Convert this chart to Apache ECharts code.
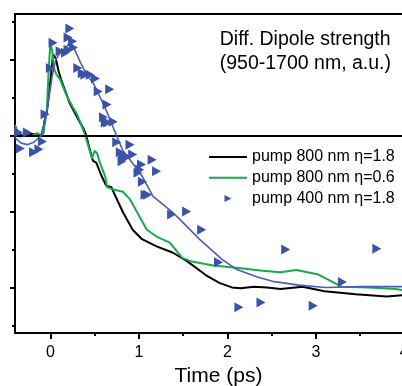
<!DOCTYPE html>
<html><head><meta charset="utf-8">
<script src="https://cdn.jsdelivr.net/npm/echarts@6/dist/echarts.min.js"></script>
<style>html,body{margin:0;padding:0;background:#fff}#c{width:402px;height:386px}</style>
</head><body><div id="c"></div>
<script>
var blackT = [-0.40,-0.30,-0.20,-0.12,-0.08,-0.07,-0.04,0.00,0.03,0.06,0.09,0.12,0.17,0.22,0.28,0.33,0.37,0.40,0.44,0.48,0.52,0.57,0.63,0.66,0.69,0.72,0.82,0.93,1.03,1.20,1.38,1.54,1.76,1.91,2.05,2.15,2.30,2.45,2.60,2.85,3.10,3.45,3.80,4.00,4.20];
var blackV = [0.00,0.01,0.02,0.00,0.03,0.18,0.30,0.72,1.07,1.02,0.86,0.74,0.58,0.42,0.29,0.18,0.10,0.02,-0.16,-0.33,-0.36,-0.51,-0.66,-0.67,-0.68,-0.76,-1.01,-1.24,-1.36,-1.46,-1.54,-1.65,-1.84,-1.94,-2.00,-2.01,-1.99,-2.00,-2.02,-1.99,-2.05,-2.09,-2.12,-2.10,-2.08];
var greenT = [-0.40,-0.38,-0.35,-0.30,-0.22,-0.15,-0.10,-0.08,-0.06,-0.04,-0.02,0.00,0.02,0.04,0.07,0.11,0.15,0.19,0.25,0.30,0.34,0.39,0.43,0.47,0.50,0.53,0.56,0.62,0.64,0.71,0.82,0.90,0.98,1.09,1.20,1.35,1.49,1.60,1.84,2.10,2.40,2.60,2.78,3.03,3.29,3.60,3.90,4.20];
var greenV = [0.14,0.08,-0.02,0.02,-0.01,0.03,0.00,0.05,0.17,0.34,0.85,1.22,1.12,0.88,0.80,0.74,0.62,0.51,0.38,0.28,0.17,0.01,-0.14,-0.30,-0.20,-0.24,-0.36,-0.54,-0.68,-0.71,-0.74,-0.84,-1.01,-1.24,-1.33,-1.41,-1.61,-1.66,-1.71,-1.74,-1.78,-1.80,-1.77,-1.83,-1.99,-2.00,-2.02,-2.08];
var blueLineT = [-0.40,-0.33,-0.26,-0.19,-0.11,-0.06,-0.02,0.02,0.06,0.11,0.16,0.22,0.26,0.34,0.42,0.48,0.56,0.65,0.75,0.82,0.90,1.04,1.16,1.38,1.46,1.69,1.94,2.10,2.33,2.51,2.81,3.11,3.50,4.20];
var blueLineV = [-0.03,-0.10,-0.12,-0.09,-0.01,0.21,0.47,0.78,1.00,1.09,1.14,1.22,1.17,0.96,0.78,0.70,0.51,0.28,-0.01,-0.20,-0.32,-0.54,-0.80,-1.01,-1.10,-1.37,-1.63,-1.76,-1.86,-1.92,-1.97,-2.00,-1.99,-1.99];
var scatterT = [-0.36,-0.26,-0.34,-0.19,-0.13,-0.09,-0.06,0.00,0.03,0.11,0.17,0.20,0.26,0.20,0.22,0.25,0.31,0.36,0.39,0.45,0.51,0.54,0.67,0.64,0.60,0.62,0.65,0.71,0.75,0.90,0.79,0.82,0.84,0.81,0.87,0.93,1.15,1.03,1.01,0.99,1.20,1.04,1.07,1.10,1.37,1.54,1.71,1.90,2.13,2.38,2.66,2.97,3.30,3.69];
var scatterV = [0.04,0.04,-0.17,-0.22,-0.18,-0.08,0.28,0.89,1.22,1.11,1.09,1.13,1.16,1.29,1.41,1.24,0.89,0.82,0.80,0.80,0.75,0.58,0.61,0.41,0.24,0.17,0.17,0.18,-0.09,-0.12,-0.22,-0.25,-0.29,-0.34,-0.28,-0.25,-0.32,-0.38,-0.45,-0.49,-0.47,-0.61,-0.78,-0.78,-1.04,-1.00,-1.24,-1.67,-2.26,-2.20,-1.50,-2.24,-1.93,-1.49];
var xMajor = [0,1,2,3,4];
var xMinor = [0.5,1.5,2.5,3.5];
var yMajor = [-2,-1,0,1];
var yMinor = [-2.5,-1.5,-0.5,0.5,1.5];
var seriesNames = ['pump 800 nm \u03b7=1.8','pump 800 nm \u03b7=0.6','pump 400 nm \u03b7=1.8'];
var titleLines = ['Diff. Dipole strength','(950-1700 nm, a.u.)'];
var xName = 'Time (ps)';

function zip(a,b){return a.map(function(v,i){return [v,b[i]];});}
var FONT = "'Liberation Sans', Arial, sans-serif";
var chart = echarts.init(document.getElementById('c'), null, {renderer:'canvas'});
var XMIN=-0.4, XMAX=4.2, YMIN=-2.6, YMAX=1.6;
chart.setOption({
  animation:false,
  backgroundColor:'#fff',
  textStyle:{fontFamily:FONT},
  title:{text:titleLines.join('\n'), right:11, top:27, padding:0,
    textStyle:{fontSize:19.5, fontWeight:'normal', color:'#000', lineHeight:24.5, fontFamily:FONT, align:'right'}},
  grid:{left:15, top:14, width:407, height:319, outerBoundsMode:'none', containLabel:false,
    show:true, borderColor:'#000', borderWidth:2, backgroundColor:'transparent'},
  legend:{orient:'vertical', left:208, top:149, padding:0, itemWidth:38, itemHeight:7, itemGap:4.7,
    data:[
      {name:seriesNames[0], itemStyle:{opacity:0}},
      {name:seriesNames[1], itemStyle:{opacity:0}},
      {name:seriesNames[2]}
    ],
    textStyle:{fontSize:16, color:'#000', fontFamily:FONT}, selectedMode:false},
  xAxis:[
    {type:'value', min:XMIN, max:XMAX, position:'bottom',
     axisLine:{show:true, onZero:false, lineStyle:{color:'#000', width:2}},
     axisTick:{show:true, customValues:xMajor, length:6, lineStyle:{color:'#000', width:2}},
     axisLabel:{show:true, customValues:xMajor, fontSize:16, color:'#000', margin:12, fontFamily:FONT, hideOverlap:false},
     splitLine:{show:false},
     name:xName, nameLocation:'middle', nameGap:29, nameTextStyle:{fontSize:21, color:'#000', fontFamily:FONT}},
    {type:'value', min:XMIN, max:XMAX, position:'bottom', offset:0,
     axisLine:{show:false, onZero:false},
     axisTick:{show:true, customValues:xMinor, length:3, lineStyle:{color:'#000', width:2}},
     axisLabel:{show:false}, splitLine:{show:false}}
  ],
  yAxis:[
    {type:'value', min:YMIN, max:YMAX, position:'left',
     axisLine:{show:true, onZero:false, lineStyle:{color:'#000', width:2}},
     axisTick:{show:true, customValues:yMajor, length:5, lineStyle:{color:'#000', width:2}},
     axisLabel:{show:false}, splitLine:{show:false}},
    {type:'value', min:YMIN, max:YMAX, position:'left', offset:0,
     axisLine:{show:false, onZero:false},
     axisTick:{show:true, customValues:yMinor, length:3, lineStyle:{color:'#000', width:2}},
     axisLabel:{show:false}, splitLine:{show:false}}
  ],
  series:[
    {name:seriesNames[0], type:'line', data:zip(blackT,blackV), symbol:'none', showSymbol:false,
     lineStyle:{color:'#000', width:2}, itemStyle:{color:'#000'}, z:3,
     markLine:{silent:true, symbol:'none', label:{show:false}, lineStyle:{color:'#000', width:2, type:'solid'},
       data:[{yAxis:0}]}},
    {name:seriesNames[1], type:'line', data:zip(greenT,greenV), symbol:'none', showSymbol:false,
     lineStyle:{color:'#17aa4c', width:2}, itemStyle:{color:'#17aa4c'}, z:4},
    {name:'fit 400', type:'line', data:zip(blueLineT,blueLineV), symbol:'none', showSymbol:false,
     lineStyle:{color:'#4a5fb2', width:1.6}, itemStyle:{color:'#4a5fb2'}, z:5},
    {name:seriesNames[2], type:'scatter', data:zip(scatterT,scatterV),
     symbol:'path://M0,0L10,5L0,10Z', symbolSize:[9,10],
     itemStyle:{color:'#3b52a8', opacity:1}, z:6}
  ]
});
</script></body></html>
